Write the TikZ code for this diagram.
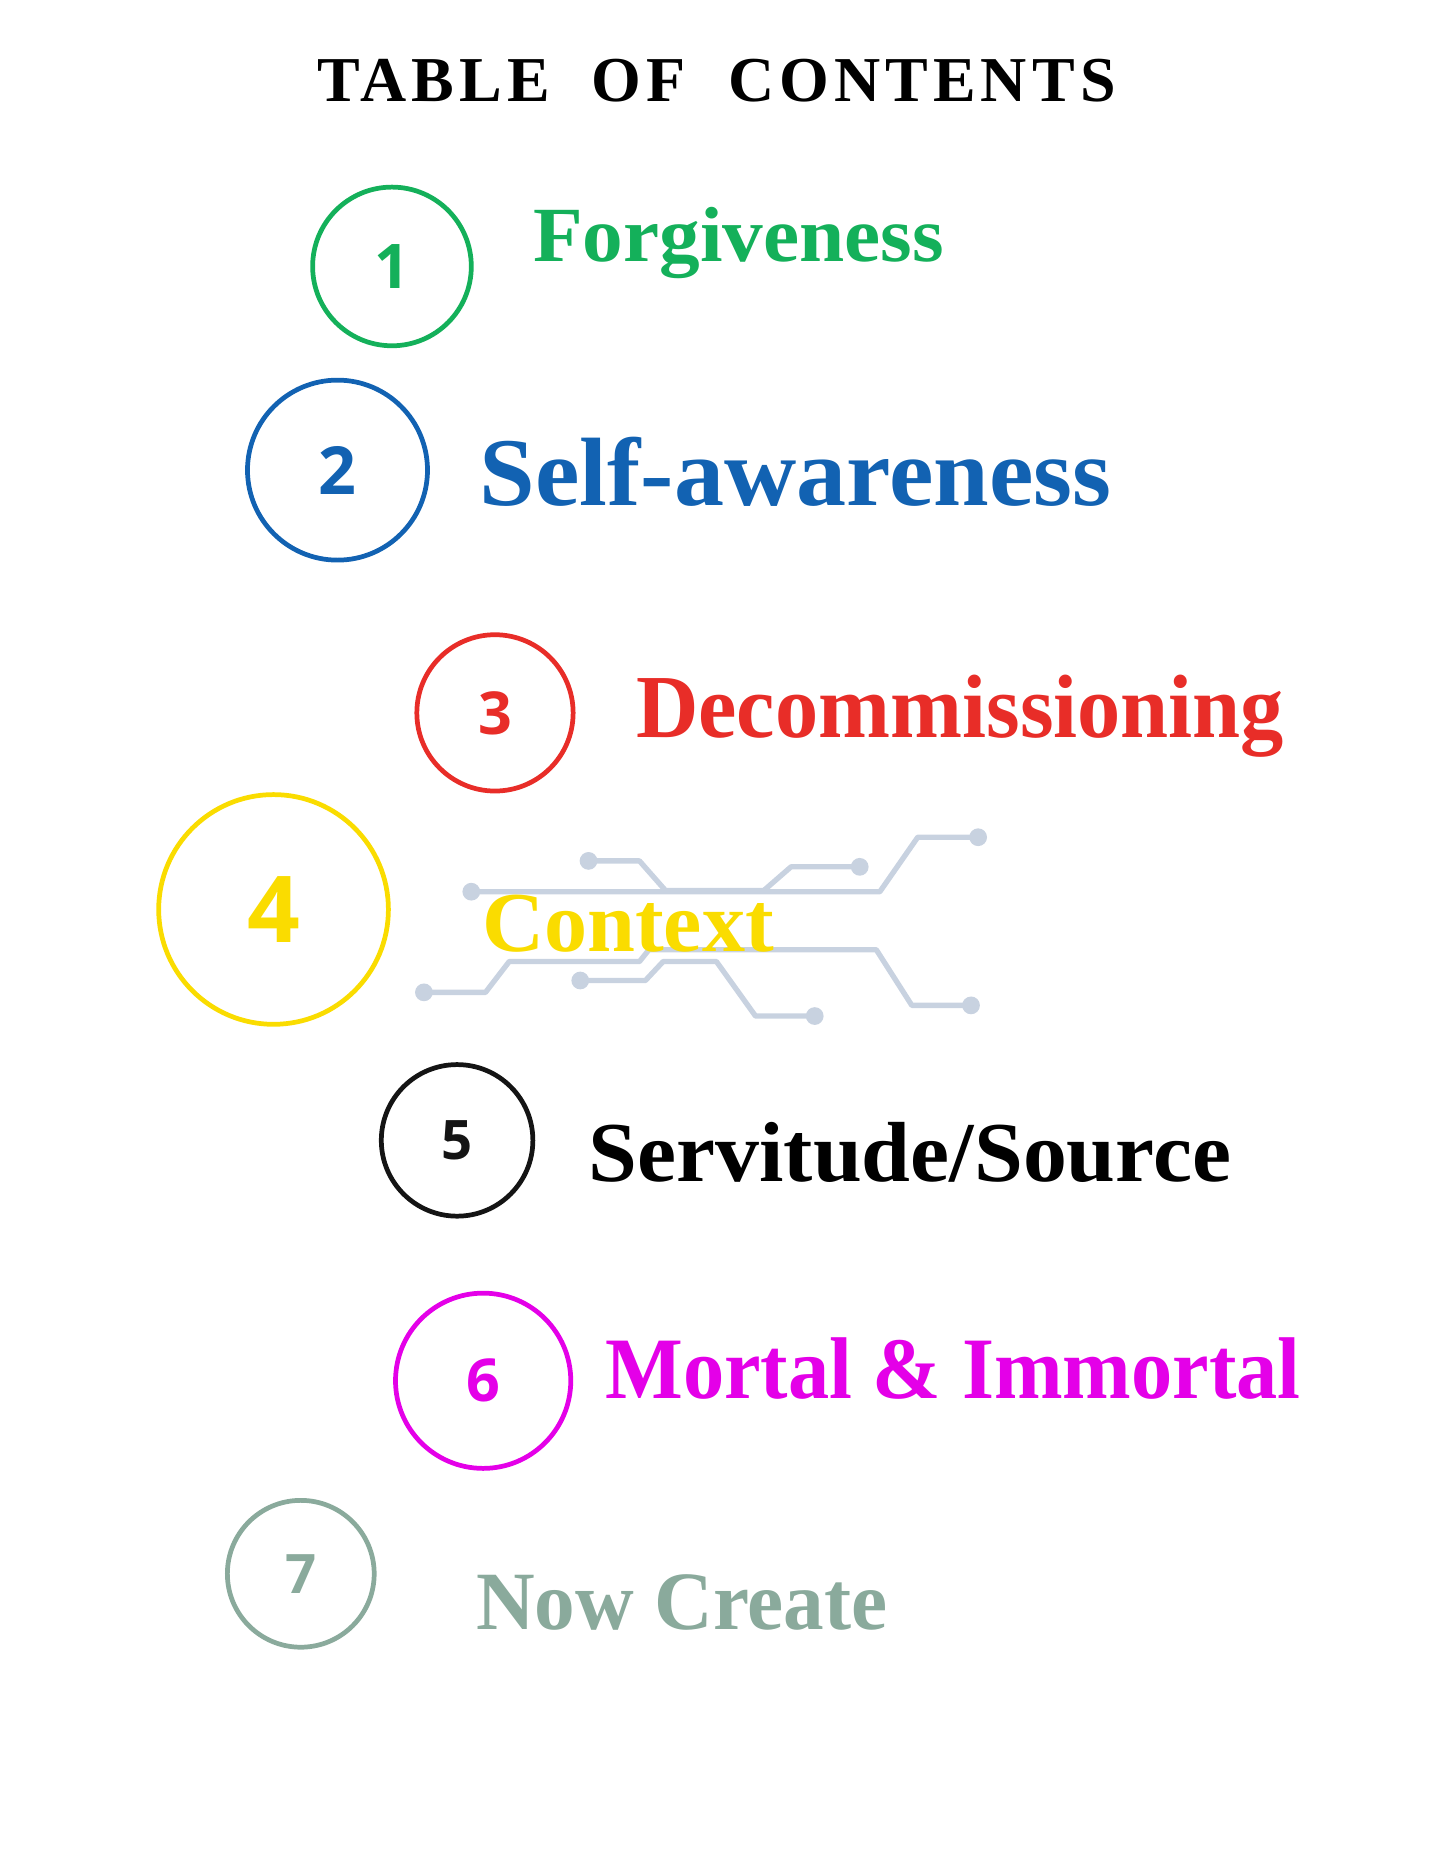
\documentclass[tikz,border=0pt]{standalone}
\usepackage{fontspec}
\setmainfont{Liberation Serif}
\newfontfamily\numf{Open Sans}
\newfontfamily\titlef[LetterSpace=8]{Liberation Serif}
\definecolor{cg}{RGB}{20,176,90}
\definecolor{cb}{RGB}{18,98,178}
\definecolor{cr}{RGB}{232,45,40}
\definecolor{cy}{RGB}{250,220,0}
\definecolor{ck}{RGB}{20,20,20}
\definecolor{cmag}{RGB}{228,0,232}
\definecolor{cs}{RGB}{138,170,156}
\definecolor{cc}{RGB}{200,210,224}
\tikzset{ring/.style={circle,draw,line width=4pt,inner sep=0pt},
 num/.style={font=\numf\bfseries\fontsize{#1}{#1}\selectfont},
 lab/.style={anchor=west,inner sep=0pt,font=\bfseries\fontsize{#1}{#1}\selectfont},
 wire/.style={cc,line width=4.5pt,line join=round},
 dotc/.style={circle,fill=cc,inner sep=0pt,minimum size=15pt}}
\begin{document}
\begin{tikzpicture}[x=1pt,y=-1pt]
\useasboundingbox (0,0) rectangle (1220,1580);
\node (t) at (605,68) {\titlef\bfseries\fontsize{54}{54}\selectfont TABLE\ \ OF\ \ CONTENTS};
% circuit
\node[dotc] (d1) at (497,727) {}; \node[dotc] (d2) at (726,732) {};
\node[dotc] (d3) at (398,753) {}; \node[dotc] (d4) at (826,707) {};
\node[dotc] (d5) at (358,838) {}; \node[dotc] (d6) at (820,849) {};
\node[dotc] (d7) at (490,828) {}; \node[dotc] (d8) at (688,858) {};
\draw[wire] (d1.center)--(540,727)--(562,752)--(645,752)--(668,732)--(d2.center);
\draw[wire] (d3.center)--(743,753)--(775,707)--(d4.center);
\draw[wire] (d5.center)--(410,838)--(430,812)--(540,812)--(548,802)--(740,802)--(770,849)--(d6.center);
\draw[wire] (d7.center)--(545,828)--(560,812)--(605,812)--(638,858)--(d8.center);
% items
\node[ring,draw=cg,minimum size=134pt] (c1) at (331,225) {}; \node[num=52,text=cg] at (c1) {1};
\node[lab=66,text=cg] (l1) at (450,205) {\scalebox{1.04}[1]{Forgiveness}};
\node[ring,draw=cb,minimum size=152pt] (c2) at (285,397) {}; \node[num=56,text=cb] at (c2) {2};
\node[lab=82,text=cb] (l2) at (405,398) {\scalebox{1.03}[1]{Self-awareness}};
\node[ring,draw=cr,minimum size=132pt] (c3) at (418,602) {}; \node[num=50,text=cr] at (c3) {3};
\node[lab=76,text=cr] (l3) at (537,605) {\scalebox{0.96}[1]{Decommissioning}};
\node[ring,draw=cy,minimum size=194pt] (c4) at (231,768) {}; \node[num=78,text=cy] at (c4) {4};
\node[lab=72,text=cy] (l4) at (407,780) {\scalebox{1.01}[1]{Context}};
\node[ring,draw=ck,minimum size=128pt] (c5) at (386,963) {}; \node[num=46,text=ck] at (c5) {5};
\node[lab=72,text=black] (l5) at (497,973) {\scalebox{1.03}[1]{Servitude/Source}};
\node[ring,draw=cmag,minimum size=148pt] (c6) at (408,1166) {}; \node[num=50,text=cmag] at (c6) {6};
\node[lab=74,text=cmag] (l6) at (511,1156) {\scalebox{0.94}[1]{Mortal \& Immortal}};
\node[ring,draw=cs,minimum size=124pt] (c7) at (254,1329) {}; \node[num=46,text=cs] at (c7) {7};
\node[lab=70,text=cs] (l7) at (402,1353) {\scalebox{0.98}[1]{Now Create}};
\end{tikzpicture}
\end{document}
